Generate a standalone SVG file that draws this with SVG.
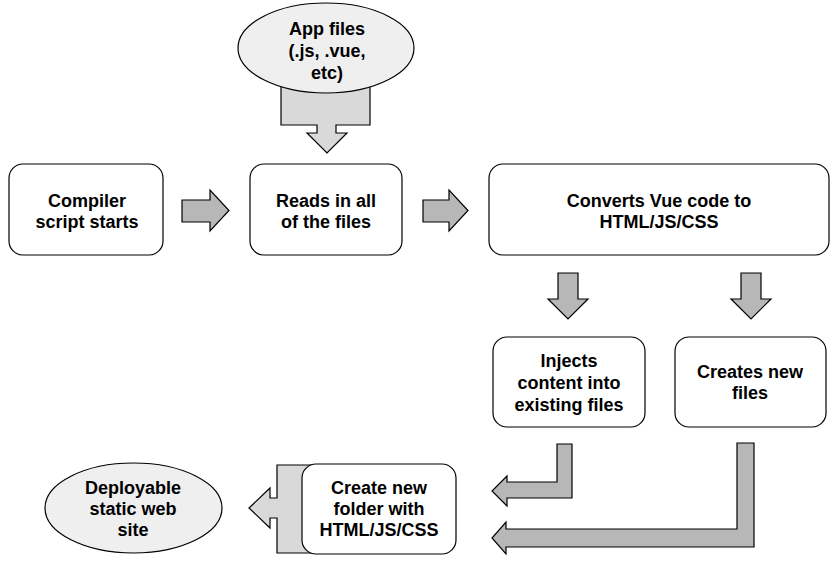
<svg xmlns="http://www.w3.org/2000/svg" width="837" height="585" viewBox="0 0 837 585">
<style>
.box{fill:#ffffff;stroke:#000;stroke-width:1.2}
.ell{fill:#efefef;stroke:#000;stroke-width:1.2}
.arr{fill:#b7b7b7;stroke:#000;stroke-width:1.2;stroke-linejoin:miter}
.arrl{fill:#d9d9d9;stroke:#000;stroke-width:1.2}
.t{font-family:"Liberation Sans",Arial,sans-serif;font-weight:bold;font-size:18px;fill:#000;text-anchor:middle}
</style>
<rect width="837" height="585" fill="#ffffff"/>
<g id="connectors">
<path id="app-callout" class="arrl" d="M281,60 H370 V125 H336 V133 H347 L327,153 L307,133 H317 V125 H281 Z"/>
<path id="folder-callout" class="arrl" d="M277,465 H340 V553 H277 V518 H270 V528 L249,508 L270,488 V498 H277 Z"/>
<path class="arr" d="M182,200 H210 V190 L229,210.5 L210,231 V222 H182 Z"/>
<path class="arr" d="M423,200 H449 V190 L468,210.5 L449,231 V222 H423 Z"/>
<path class="arr" d="M558,273 H578 V299 H588 L568,319 L548,299 H558 Z"/>
<path class="arr" d="M741,273 H761 V299 H771 L751,319 L731,299 H741 Z"/>
<path class="arr" d="M557,444 H572 V498 H507 V506 L492,491 L507,476 V482 H557 Z"/>
<path class="arr" d="M737,443 H754 V547 H506 V554 L492,538 L506,522 V529 H737 Z"/>
</g>
<g id="app-files">
<ellipse class="ell" cx="326" cy="48" rx="88" ry="45"/>
<text class="t" x="327" y="35">App files</text>
<text class="t" x="327" y="57">(.js, .vue,</text>
<text class="t" x="327" y="79">etc)</text>
</g>
<g id="compiler">
<rect class="box" x="9" y="164" width="154" height="91" rx="14"/>
<text class="t" x="87" y="207">Compiler</text>
<text class="t" x="87" y="228">script starts</text>
</g>
<g id="reads">
<rect class="box" x="250" y="164" width="152" height="91" rx="14"/>
<text class="t" x="326" y="207">Reads in all</text>
<text class="t" x="326" y="228">of the files</text>
</g>
<g id="converts">
<rect class="box" x="489" y="164" width="340" height="91" rx="14"/>
<text class="t" x="659" y="207">Converts Vue code to</text>
<text class="t" x="659" y="228">HTML/JS/CSS</text>
</g>
<g id="injects">
<rect class="box" x="493" y="337" width="152" height="90" rx="14"/>
<text class="t" x="569" y="367">Injects</text>
<text class="t" x="569" y="389">content into</text>
<text class="t" x="569" y="411">existing files</text>
</g>
<g id="creates">
<rect class="box" x="675" y="337" width="151" height="90" rx="14"/>
<text class="t" x="750" y="378">Creates new</text>
<text class="t" x="750" y="399">files</text>
</g>
<g id="folder">
<rect class="box" x="302" y="464" width="154" height="90" rx="14"/>
<text class="t" x="379" y="494">Create new</text>
<text class="t" x="379" y="515">folder with</text>
<text class="t" x="379" y="536">HTML/JS/CSS</text>
</g>
<g id="deployable">
<ellipse class="ell" cx="133.5" cy="508" rx="88.5" ry="45"/>
<text class="t" x="133" y="494">Deployable</text>
<text class="t" x="133" y="515">static web</text>
<text class="t" x="133" y="536">site</text>
</g>
</svg>
